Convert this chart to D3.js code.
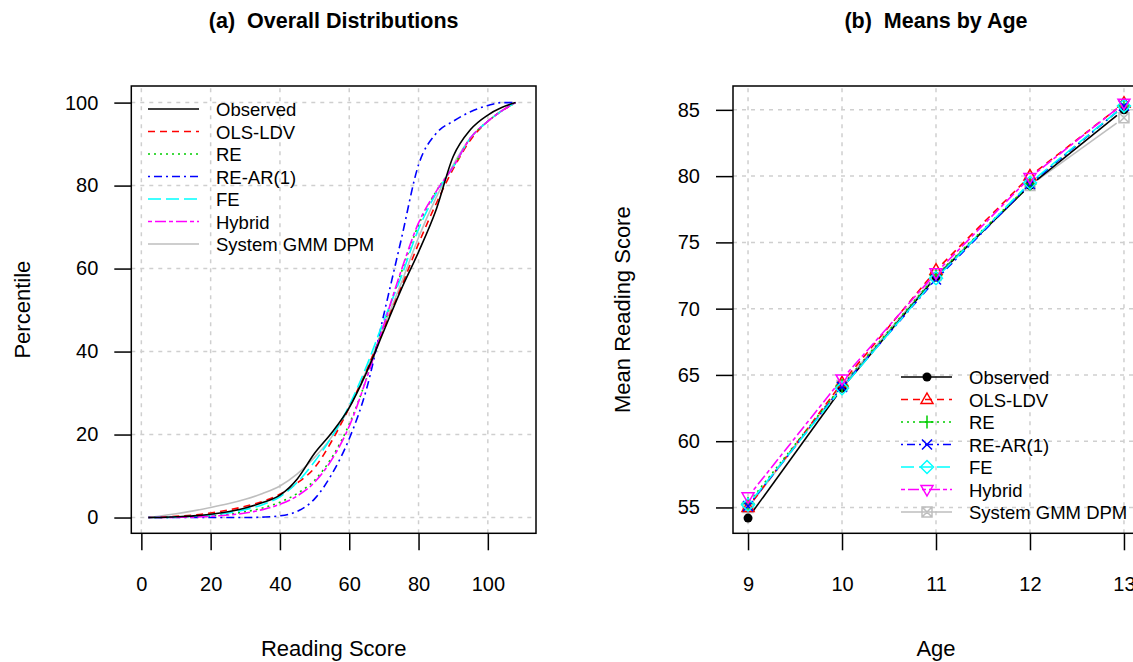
<!DOCTYPE html>
<html>
<head>
<meta charset="utf-8">
<script src="https://cdn.jsdelivr.net/npm/d3@7"></script>
<style>
  body { margin: 0; background: #fff; }
  svg { display: block; font-family: 'Liberation Sans', Arial, sans-serif; }
</style>
</head>
<body>
<svg id="canvas" width="1133" height="662"></svg>
<script>
// series shared by both panels
const seriesNames = ['Observed', 'OLS-LDV', 'RE', 'RE-AR(1)', 'FE', 'Hybrid', 'System GMM DPM'];
const seriesColors = ['#000000', '#ff0000', '#00cd00', '#0000ff', '#00ffff', '#ff00ff', '#bebebe'];
const seriesDash = ['none', '7,5', '2,4', '2,4,8,4', '13,5', '4,3,11,3', 'none'];
const seriesMarks = ['circle', 'triUp', 'plus', 'cross', 'diamond', 'triDown', 'boxX'];

// panel (a): cumulative distributions of reading score
const scoreGrid = [2, 5, 10, 15, 20, 25, 30, 35, 40, 45, 50, 55, 60, 65, 70, 75, 80, 85, 90, 95, 100, 104, 108];
const pctObserved = [0, 0, 0.2, 0.4, 0.8, 1.4, 2.3, 3.6, 5.4, 9.3, 15.5, 20.5, 26.5, 35, 45, 55, 64, 74, 87, 93.5, 97, 98.8, 100];
const pctOls = [0, 0.1, 0.3, 0.6, 1.1, 1.8, 2.7, 3.9, 5.6, 8.3, 12, 18.5, 26.5, 35.5, 45.5, 55.5, 66, 75.5, 84, 91, 95.5, 98, 100];
const pctRe = [0, 0, 0.1, 0.2, 0.4, 0.8, 1.4, 2.3, 3.7, 5.8, 9, 14.5, 22.5, 33.5, 46.5, 59, 70.5, 78.5, 84.5, 91.5, 95.5, 98, 100];
const pctReAr = [0, 0, 0, 0, 0, 0, 0, 0.1, 0.4, 1.5, 4.5, 10.5, 19, 31, 49, 67, 85, 92.5, 95.5, 97.8, 99.3, 100, 100];
const pctFe = [0, 0, 0.1, 0.3, 0.6, 1.1, 1.9, 3.1, 5, 8.5, 13.5, 19.5, 27, 36.5, 47.5, 58, 69.5, 78, 84.5, 91.5, 95.5, 98, 100];
const pctHybrid = [0, 0, 0.05, 0.1, 0.3, 0.6, 1.1, 1.9, 3.2, 5.2, 8.5, 14, 22, 33.5, 46.5, 59.5, 71, 78.5, 84.5, 91.5, 95.5, 98, 100];
const pctGmm = [0, 0.3, 0.9, 1.6, 2.4, 3.3, 4.4, 5.8, 7.6, 10.5, 14.5, 19.5, 26.5, 35.5, 46, 56.5, 67.5, 77, 85, 91.5, 95.5, 98, 100];
const scoreTicks = [0, 20, 40, 60, 80, 100];
const pctTicks = [0, 20, 40, 60, 80, 100];

// panel (b): mean reading score by age
const ages = [9, 10, 11, 12, 13];
const meanObserved = [54.2, 64.0, 72.4, 79.3, 85.0];
const meanOls = [55.0, 64.4, 72.9, 80.0, 85.5];
const meanRe = [55.3, 64.2, 72.5, 79.4, 85.3];
const meanReAr = [55.1, 64.1, 72.2, 79.4, 85.3];
const meanFe = [55.2, 64.0, 72.3, 79.5, 85.3];
const meanHybrid = [55.8, 64.7, 72.7, 79.9, 85.5];
const meanGmm = [55.0, 64.2, 72.5, 79.3, 84.4];
const meanTicks = [55, 60, 65, 70, 75, 80, 85];

const pctSeries = [pctObserved, pctOls, pctRe, pctReAr, pctFe, pctHybrid, pctGmm];
const meanSeries = [meanObserved, meanOls, meanRe, meanReAr, meanFe, meanHybrid, meanGmm];

const svg = d3.select('#canvas');
const tickFont = 20;
const titleFont = 22;
const legendFont = 18.5;

const drawFrame = (x, y, xTicks, yTicks, xTitle, yTitle, title, yTitleX) => {
  const [x0, x1] = x.range();
  const [y0, y1] = y.range();
  const g = svg.append('g');

  // dotted grid
  g.selectAll('.vgrid').data(xTicks).enter().append('line')
    .attr('x1', (d) => x(d)).attr('x2', (d) => x(d))
    .attr('y1', y0).attr('y2', y1)
    .attr('stroke', '#cfcfcf').attr('stroke-width', 1.5).attr('stroke-dasharray', '4,5');
  g.selectAll('.hgrid').data(yTicks).enter().append('line')
    .attr('x1', x0).attr('x2', x1)
    .attr('y1', (d) => y(d)).attr('y2', (d) => y(d))
    .attr('stroke', '#cfcfcf').attr('stroke-width', 1.5).attr('stroke-dasharray', '4,5');

  const xAxis = svg.append('g')
    .attr('transform', `translate(0,${y0})`)
    .call(d3.axisBottom(x).tickValues(xTicks).tickSize(17).tickSizeOuter(0).tickPadding(27).tickFormat(d3.format('d')));
  const yAxis = svg.append('g')
    .attr('transform', `translate(${x0},0)`)
    .call(d3.axisLeft(y).tickValues(yTicks).tickSize(17).tickSizeOuter(0).tickPadding(16).tickFormat(d3.format('d')));
  [xAxis, yAxis].forEach((a) => {
    a.select('.domain').remove();
    a.selectAll('line').attr('stroke', '#000').attr('stroke-width', 1.5);
    a.selectAll('text').attr('fill', '#000').style('font-size', tickFont + 'px').style('font-family', null);
  });

  svg.append('rect')
    .attr('x', x0).attr('y', y1)
    .attr('width', x1 - x0).attr('height', y0 - y1)
    .attr('fill', 'none').attr('stroke', '#000').attr('stroke-width', 1.5);

  const cx = (x0 + x1) / 2;
  svg.append('text').attr('x', cx).attr('y', 656)
    .attr('text-anchor', 'middle').style('font-size', titleFont + 'px').text(xTitle);
  svg.append('text')
    .attr('transform', `translate(${yTitleX},${(y0 + y1) / 2}) rotate(-90)`)
    .attr('text-anchor', 'middle').style('font-size', titleFont + 'px').text(yTitle);
  svg.append('text').attr('x', cx).attr('y', 28)
    .attr('text-anchor', 'middle').style('font-size', '21.5px').style('font-weight', 'bold')
    .style('white-space', 'pre').text(title);
};

// marker path centred on 0,0
const markerPath = (type) => {
  const p = d3.path();
  if (type === 'triUp') {
    p.moveTo(0, -6.5); p.lineTo(6, 4); p.lineTo(-6, 4); p.closePath();
  } else if (type === 'triDown') {
    p.moveTo(0, 6.5); p.lineTo(6, -4); p.lineTo(-6, -4); p.closePath();
  } else if (type === 'plus') {
    p.moveTo(-6.5, 0); p.lineTo(6.5, 0); p.moveTo(0, -6.5); p.lineTo(0, 6.5);
  } else if (type === 'cross') {
    p.moveTo(-5, -5); p.lineTo(5, 5); p.moveTo(-5, 5); p.lineTo(5, -5);
  } else if (type === 'diamond') {
    p.moveTo(0, -6.5); p.lineTo(6.5, 0); p.lineTo(0, 6.5); p.lineTo(-6.5, 0); p.closePath();
  } else if (type === 'boxX') {
    p.rect(-5, -5, 10, 10);
    p.moveTo(-5, -5); p.lineTo(5, 5); p.moveTo(-5, 5); p.lineTo(5, -5);
  }
  return p.toString();
};

const drawMarker = (g, type, color, px, py) => {
  if (type === 'circle') {
    g.append('circle').attr('cx', px).attr('cy', py).attr('r', 4.5).attr('fill', color);
  } else {
    g.append('path').attr('d', markerPath(type))
      .attr('transform', `translate(${px},${py})`)
      .attr('fill', 'none').attr('stroke', color).attr('stroke-width', 1.5);
  }
};

const drawLegend = (lx, ly, withMarks) => {
  const g = svg.append('g');
  seriesNames.forEach((name, i) => {
    const yy = ly + i * 22.5;
    g.append('line').attr('x1', lx).attr('x2', lx + 51).attr('y1', yy).attr('y2', yy)
      .attr('stroke', seriesColors[i]).attr('stroke-width', 1.6)
      .attr('stroke-dasharray', seriesDash[i]);
    if (withMarks) drawMarker(g, seriesMarks[i], seriesColors[i], lx + 26, yy);
    g.append('text').attr('x', lx + 68).attr('y', yy + 7)
      .style('font-size', legendFont + 'px').text(name);
  });
};

// ---- panel (a)
const xA = d3.scaleLinear().domain([-2.9, 113.9]).range([131.3, 536]);
const yA = d3.scaleLinear().domain([-3.8, 104]).range([533.3, 86]);
drawFrame(xA, yA, scoreTicks, pctTicks, 'Reading Score', 'Percentile', '(a)  Overall Distributions', 30);

const lineA = d3.line()
  .x((d, i) => xA(scoreGrid[i]))
  .y((d) => yA(d))
  .curve(d3.curveMonotoneX);

// draw the grey and black last so they sit on top like the original
const orderA = [6, 1, 2, 3, 4, 5, 0];
svg.append('g').selectAll('path')
  .data(orderA)
  .enter()
  .append('path')
  .attr('d', (i) => lineA(pctSeries[i]))
  .attr('fill', 'none')
  .attr('stroke', (i) => seriesColors[i])
  .attr('stroke-width', 1.6)
  .attr('stroke-dasharray', (i) => seriesDash[i]);

drawLegend(148, 109, false);

// ---- panel (b)
const xB = d3.scaleLinear().domain([8.84, 13.16]).range([733, 1139]);
const yB = d3.scaleLinear().domain([53.05, 86.8]).range([533.3, 86]);
drawFrame(xB, yB, ages, meanTicks, 'Age', 'Mean Reading Score', '(b)  Means by Age', 630);

const gap = 9;
const gB = svg.append('g');
[6, 0, 1, 2, 3, 4, 5].forEach((s) => {
  const vals = meanSeries[s];
  for (let i = 0; i < ages.length - 1; i++) {
    const ax = xB(ages[i]), ay = yB(vals[i]);
    const bx = xB(ages[i + 1]), by = yB(vals[i + 1]);
    const len = Math.hypot(bx - ax, by - ay);
    const ux = (bx - ax) / len, uy = (by - ay) / len;
    gB.append('line')
      .attr('x1', ax + ux * gap).attr('y1', ay + uy * gap)
      .attr('x2', bx - ux * gap).attr('y2', by - uy * gap)
      .attr('stroke', seriesColors[s]).attr('stroke-width', 1.6)
      .attr('stroke-dasharray', seriesDash[s]);
  }
  ages.forEach((a, i) => drawMarker(gB, seriesMarks[s], seriesColors[s], xB(a), yB(vals[i])));
});

drawLegend(901, 377, true);
</script>
</body>
</html>
